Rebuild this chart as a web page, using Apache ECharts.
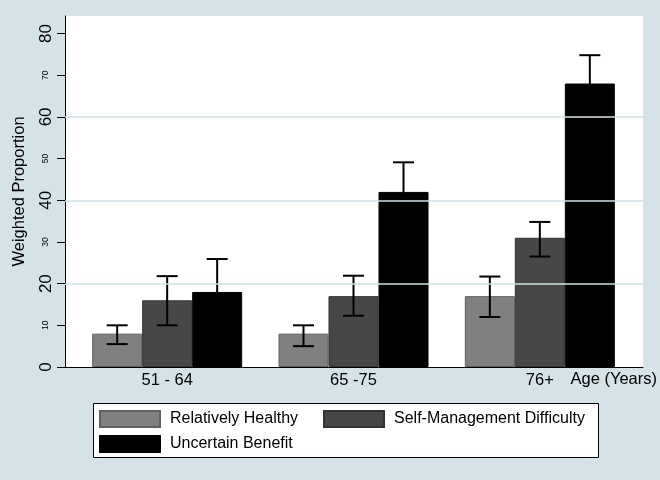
<!DOCTYPE html>
<html>
<head>
<meta charset="utf-8">
<script src="https://cdn.jsdelivr.net/npm/echarts@6/dist/echarts.min.js"></script>
<style>html,body{margin:0;padding:0;background:#d5e2e7;}#c{width:660px;height:480px;}</style>
</head>
<body>
<div id="c"></div>
<script>
var categories = ['51 - 64', '65 -75', '76+'];
var seriesNames = ['Relatively Healthy', 'Self-Management Difficulty', 'Uncertain Benefit'];
var healthy = [8, 8, 17];
var healthyLow = [5.5, 5, 12];
var healthyHigh = [10, 10, 21.7];
var selfMgmt = [16, 17, 31];
var selfMgmtLow = [10, 12.3, 26.5];
var selfMgmtHigh = [21.8, 21.9, 34.8];
var uncertain = [18, 42, 68];
var uncertainLow = [10, 34, 60.3];
var uncertainHigh = [25.9, 49.1, 74.8];
var yTicks = [0, 10, 20, 30, 40, 50, 60, 70, 80];
var yGrid = [20, 40, 60];
var yMax = 84.2;

var FONT = 'Liberation Sans, Arial, sans-serif';
var colors = ['#808080', '#474747', '#000000'];
var borders = ['#606060', '#333333', '#000000'];
var BAR_W = 50;

var values = [healthy, selfMgmt, uncertain];
var lows = [healthyLow, selfMgmtLow, uncertainLow];
var highs = [healthyHigh, selfMgmtHigh, uncertainHigh];

var series = [];
seriesNames.forEach(function (name, i) {
  series.push({
    name: name, type: 'bar', xAxisIndex: 1, yAxisIndex: 1,
    data: values[i], barWidth: BAR_W, barGap: '0%',
    itemStyle: { color: colors[i], borderColor: borders[i], borderWidth: 1 },
    silent: true, z: 2
  });
});
seriesNames.forEach(function (name, i) {
  var d = categories.map(function (c, k) { return [k, lows[i][k], highs[i][k]]; });
  series.push({
    type: 'custom', xAxisIndex: 1, yAxisIndex: 1, silent: true, z: 3,
    data: d,
    renderItem: function (params, api) {
      var k = api.value(0);
      var lo = api.coord([k, api.value(1)]);
      var hi = api.coord([k, api.value(2)]);
      var x = lo[0] + (i - 1) * BAR_W;
      var cap = 10.5;
      var st = { stroke: '#000', lineWidth: 2 };
      return {
        type: 'group',
        children: [
          { type: 'line', shape: { x1: x, y1: lo[1], x2: x, y2: hi[1] }, style: st },
          { type: 'line', shape: { x1: x - cap, y1: hi[1], x2: x + cap, y2: hi[1] }, style: st },
          { type: 'line', shape: { x1: x - cap, y1: lo[1], x2: x + cap, y2: lo[1] }, style: st }
        ]
      };
    }
  });
});
// gridlines on the frame grid
series.push({
  type: 'line', xAxisIndex: 0, yAxisIndex: 0, data: [], silent: true,
  markLine: {
    silent: true, symbol: 'none', label: { show: false },
    lineStyle: { color: '#d2e0e6', width: 1.5, type: 'solid' },
    data: yGrid.map(function (v) { return { yAxis: v }; })
  },
  z: 1
});

var option = {
  animation: false,
  backgroundColor: '#d5e2e7',
  grid: [
    { left: 65, right: 17, top: 16, bottom: 113, show: true, backgroundColor: '#ffffff', borderWidth: 0 },
    { left: 74, right: 27, top: 16, bottom: 113 }
  ],
  xAxis: [
    { gridIndex: 0, type: 'value', min: 0, max: 1,
      axisLine: { show: true, onZero: false, lineStyle: { color: '#000', width: 1 } },
      axisTick: { show: false }, axisLabel: { show: false }, splitLine: { show: false } },
    { gridIndex: 1, type: 'category', data: categories,
      axisLine: { show: false }, axisTick: { show: false },
      axisLabel: { color: '#000', fontFamily: FONT, fontSize: 16.5, margin: 5 } }
  ],
  yAxis: [
    { gridIndex: 0, type: 'value', min: 0, max: yMax, interval: 10,
      name: 'Weighted Proportion', nameLocation: 'middle', nameGap: 37,
      nameTextStyle: { color: '#000', fontFamily: FONT, fontSize: 16.5 },
      axisLine: { show: true, onZero: false, lineStyle: { color: '#000', width: 1 } },
      axisTick: { show: true, length: 8, customValues: yTicks, lineStyle: { color: '#000' } },
      axisLabel: {
        customValues: yTicks, rotate: 90, margin: 9, color: '#000',
        formatter: function (v) { return (v % 20 === 0 ? '{a|' : '{b|') + v + '}'; },
        rich: {
          a: { fontFamily: FONT, fontSize: 17, lineHeight: 20, color: '#000' },
          b: { fontFamily: FONT, fontSize: 8.5, lineHeight: 20, color: '#000' }
        }
      },
      splitLine: { show: false } },
    { gridIndex: 1, type: 'value', min: 0, max: yMax, show: false, splitLine: { show: false } }
  ],
  legend: [
    { data: ['Relatively Healthy', 'Uncertain Benefit'], orient: 'vertical', left: 99, top: 410, padding: 0,
      itemWidth: 60, itemHeight: 16, itemGap: 7, icon: 'rect', selectedMode: false, z: 5,
      textStyle: { color: '#000', fontFamily: FONT, fontSize: 16, lineHeight: 16, padding: [0, 0, 0, 5] } },
    { data: ['Self-Management Difficulty'], orient: 'vertical', left: 323, top: 410, padding: 0,
      itemWidth: 60, itemHeight: 16, itemGap: 7, icon: 'rect', selectedMode: false, z: 5,
      textStyle: { color: '#000', fontFamily: FONT, fontSize: 16, lineHeight: 16, padding: [0, 0, 0, 5] } }
  ],
  graphic: [
    { type: 'rect', left: 93, top: 403, z: 0, silent: true,
      shape: { width: 505, height: 54 }, style: { fill: '#fff', stroke: '#000', lineWidth: 1 } },
    { type: 'text', right: 3, top: 371, z: 5, silent: true,
      style: { text: 'Age (Years)', fill: '#000', font: '16.5px ' + FONT } }
  ],
  series: series
};
var chart = echarts.init(document.getElementById('c'), null, { renderer: 'canvas' });
chart.setOption(option);
</script>
</body>
</html>
